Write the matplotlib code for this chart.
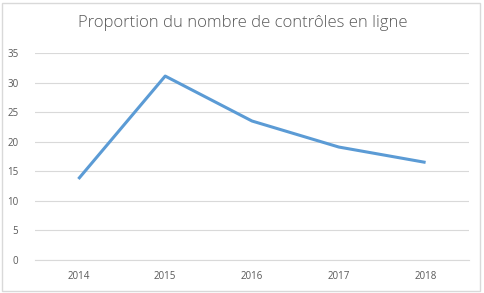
import matplotlib.pyplot as plt
from matplotlib.patches import Rectangle

years = ['2014', '2015', '2016', '2017', '2018']
values = [13.7, 31.1, 23.5, 19.1, 16.5]
yticks = [0, 5, 10, 15, 20, 25, 30, 35]

text_color = '#595959'
grid_color = '#d9d9d9'
line_color = '#5b9bd5'

fig = plt.figure(figsize=(4.85, 2.93), dpi=100)
ax = fig.add_axes([35 / 485, 1 - 260 / 293, 434 / 485, 207 / 293])

x = range(len(years))
ax.plot(x, values, color=line_color, linewidth=2.2, solid_capstyle='butt')

ax.set_xlim(-0.5, len(years) - 0.5)
ax.set_ylim(0, 35)
ax.set_yticks(yticks)
ax.set_xticks(list(x))
ax.set_xticklabels(years)
ax.grid(axis='y', color=grid_color, linewidth=0.8)
ax.set_axisbelow(True)
for side in ['top', 'right', 'left']:
    ax.spines[side].set_visible(False)
ax.spines['bottom'].set_color(grid_color)
ax.spines['bottom'].set_linewidth(0.8)
ax.tick_params(length=0, labelsize=7, labelcolor=text_color, pad=8)
ax.tick_params(axis='y', pad=12)
for lbl in ax.get_xticklabels() + ax.get_yticklabels():
    lbl.set_family('Open Sans')

# Chart title
fig.text(0.5, 1 - 23 / 293, 'Proportion du nombre de contrôles en ligne',
         ha='center', va='center', fontsize=12, color=text_color,
         family='Open Sans', fontweight='light')

# Outer chart border
fig.patches.append(Rectangle((2.5 / 485, 2.5 / 293), 478 / 485, 288 / 293,
                             transform=fig.transFigure, fill=False,
                             edgecolor=grid_color, linewidth=1.0))

fig.savefig('out.png', dpi=100)
